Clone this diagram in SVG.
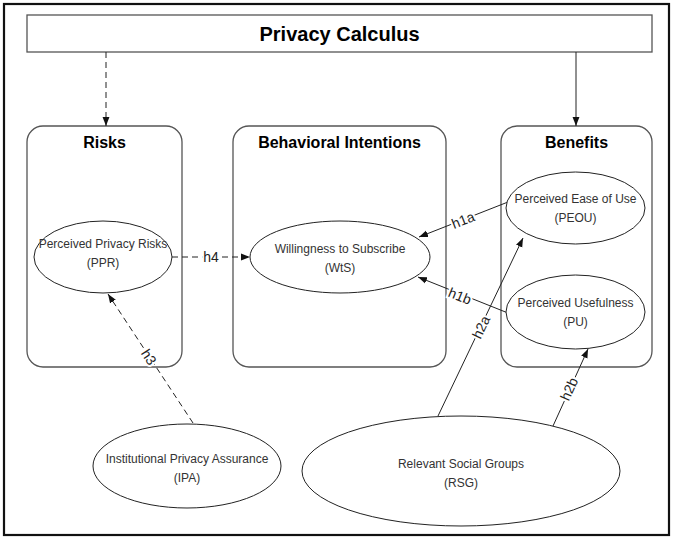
<svg xmlns="http://www.w3.org/2000/svg" width="673" height="539" viewBox="0 0 673 539">
<style>
.frame{fill:#fff;stroke:#111;stroke-width:2.2}
.box{fill:#fff;stroke:#555;stroke-width:1.3}
.ell{fill:#fff;stroke:#222;stroke-width:1}
.title{font-family:"Liberation Sans",Arial,sans-serif;font-weight:bold;fill:#000;text-anchor:middle}
.t{font-family:"Liberation Sans",Arial,sans-serif;font-size:12px;fill:#333;text-anchor:middle}
.lbl{font-family:"Liberation Sans",Arial,sans-serif;font-size:14px;fill:#222;text-anchor:middle;stroke:#fff;stroke-width:4;paint-order:stroke;dominant-baseline:central}
.c{fill:none;stroke:#222;stroke-width:1;marker-end:url(#ah)}
.d{stroke-dasharray:6,4}
</style>
<defs>
<marker id="ah" viewBox="0 0 10 10" refX="10" refY="5" markerWidth="9" markerHeight="9" markerUnits="userSpaceOnUse" orient="auto">
<path d="M0,1.2 L10,5 L0,8.8 Z" fill="#111"/>
</marker>
</defs>
<rect class="frame" x="4" y="4" width="665" height="531"/>

<g id="privacy-calculus">
<rect class="box" x="27" y="15" width="625" height="37"/>
<text class="title" x="339.5" y="40.5" font-size="20">Privacy Calculus</text>
</g>
<g id="risks">
<rect class="box" x="27" y="126" width="155" height="241" rx="16"/>
<text class="title" x="104.5" y="148" font-size="16">Risks</text>
</g>
<g id="behavioral-intentions">
<rect class="box" x="233" y="126" width="213" height="241" rx="16"/>
<text class="title" x="339.5" y="148" font-size="16">Behavioral Intentions</text>
</g>
<g id="benefits">
<rect class="box" x="501" y="126" width="151" height="241" rx="16"/>
<text class="title" x="576.5" y="148" font-size="16">Benefits</text>
</g>

<g id="connectors">
<line class="c d" x1="106" y1="52" x2="106" y2="126"/>
<line class="c" x1="576" y1="52" x2="576" y2="126"/>
<line class="c d" x1="172" y1="257" x2="250" y2="257"/>
<line class="c d" x1="193" y1="423" x2="108" y2="294"/>
<line class="c" x1="508" y1="202" x2="419" y2="237"/>
<line class="c" x1="508" y1="313" x2="418" y2="277"/>
<line class="c" x1="438" y1="416" x2="523" y2="238"/>
<line class="c" x1="553" y1="426" x2="588" y2="349"/>
<text class="lbl" x="211" y="257">h4</text>
<text class="lbl" transform="translate(149,357) rotate(56.4)">h3</text>
<text class="lbl" transform="translate(463,220) rotate(-21.5)">h1a</text>
<text class="lbl" transform="translate(460,296) rotate(21.8)">h1b</text>
<text class="lbl" transform="translate(481,327) rotate(-64.5)">h2a</text>
<text class="lbl" transform="translate(569,389) rotate(-65.8)">h2b</text>
</g>

<g id="ppr">
<ellipse class="ell" cx="103" cy="257" rx="69" ry="36"/>
<text class="t" x="103" y="248">Perceived Privacy Risks</text>
<text class="t" x="103" y="267">(PPR)</text>
</g>
<g id="wts">
<ellipse class="ell" cx="340" cy="257" rx="90" ry="36"/>
<text class="t" x="340" y="253">Willingness to Subscribe</text>
<text class="t" x="340" y="272">(WtS)</text>
</g>
<g id="peou">
<ellipse class="ell" cx="575.5" cy="208" rx="69.5" ry="36"/>
<text class="t" x="575.5" y="203">Perceived Ease of Use</text>
<text class="t" x="575.5" y="222">(PEOU)</text>
</g>
<g id="pu">
<ellipse class="ell" cx="575.5" cy="312" rx="69.5" ry="37"/>
<text class="t" x="575.5" y="307">Perceived Usefulness</text>
<text class="t" x="575.5" y="326">(PU)</text>
</g>
<g id="ipa">
<ellipse class="ell" cx="187" cy="466" rx="94" ry="42"/>
<text class="t" x="187" y="463">Institutional Privacy Assurance</text>
<text class="t" x="187" y="482">(IPA)</text>
</g>
<g id="rsg">
<ellipse class="ell" cx="461" cy="471" rx="159" ry="55"/>
<text class="t" x="461" y="468">Relevant Social Groups</text>
<text class="t" x="461" y="487">(RSG)</text>
</g>
</svg>
